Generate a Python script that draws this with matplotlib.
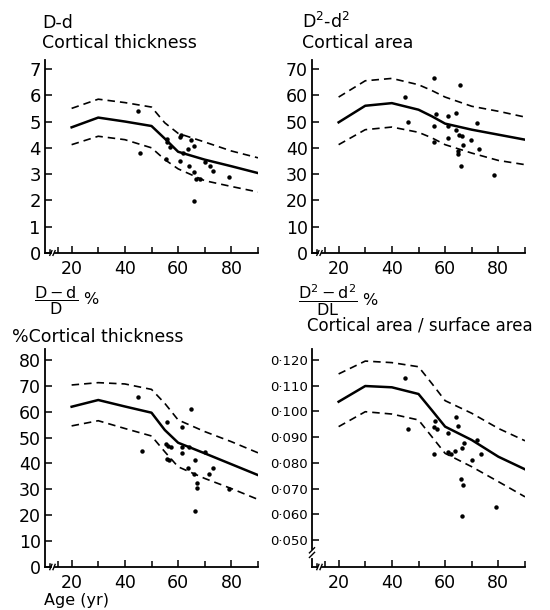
import matplotlib
matplotlib.use("Agg")
import matplotlib.pyplot as plt
from matplotlib.ticker import FuncFormatter

W, H = 550, 610

# ---- curve ages (shared by all four panels) ----
curve_age = [20, 30, 40, 50, 55, 60, 70, 80, 90]

# ---- D-d, cortical thickness ----
thick_mean = [4.78, 5.15, 5.0, 4.83, 4.35, 3.85, 3.55, 3.3, 3.04]
thick_upper = [5.5, 5.85, 5.72, 5.55, 4.95, 4.55, 4.22, 3.88, 3.62]
thick_lower = [4.12, 4.44, 4.31, 4.0, 3.55, 3.2, 2.75, 2.53, 2.32]
thick_pt_age = [44.8, 45.6, 56.0, 55.9, 57.1, 55.6, 61.0, 60.8, 61.9, 60.8, 65.0,
                65.9, 63.8, 64.1, 66.0, 66.9, 68.1, 66.0, 70.0, 72.1, 73.1, 79.0]
thick_pt_val = [5.41, 3.80, 4.33, 4.21, 4.02, 3.57, 4.50, 4.41, 3.80, 3.51, 4.28,
                4.08, 3.97, 3.30, 3.08, 2.81, 2.81, 1.99, 3.46, 3.32, 3.10, 2.90]

# ---- D^2-d^2, cortical area ----
area_mean = [49.7, 56.0, 57.0, 54.5, 52.0, 49.2, 46.9, 45.0, 43.1]
area_upper = [59.3, 65.5, 66.4, 64.0, 61.8, 59.3, 55.8, 53.9, 51.7]
area_lower = [41.2, 46.9, 47.9, 45.9, 43.8, 41.2, 38.0, 35.2, 33.6]
area_pt_age = [56.0, 65.6, 44.8, 46.0, 56.6, 56.0, 56.0, 60.9, 61.0, 61.0, 63.9,
               63.9, 65.3, 66.5, 64.9, 65.0, 66.9, 69.6, 71.9, 72.9, 65.9, 78.5]
area_pt_val = [66.5, 64.0, 59.3, 49.7, 52.9, 48.2, 42.1, 52.0, 48.4, 43.6, 53.4,
               46.9, 44.7, 44.6, 38.7, 37.8, 40.9, 43.1, 49.3, 39.5, 33.2, 29.5]

# ---- (D-d)/D %, % cortical thickness ----
pct_mean = [61.9, 64.5, 62.0, 59.6, 52.9, 48.0, 43.9, 39.7, 35.5]
pct_upper = [70.3, 71.2, 70.7, 68.6, 63.2, 56.8, 52.3, 48.4, 44.1]
pct_lower = [54.5, 56.5, 53.5, 50.6, 44.5, 38.7, 34.2, 30.3, 26.1]
pct_pt_age = [44.8, 46.3, 56.0, 55.4, 56.3, 57.3, 56.0, 56.6, 65.0, 61.3, 61.6, 61.3,
              64.1, 63.8, 66.3, 66.0, 67.1, 67.1, 70.0, 71.6, 73.1, 79.1, 66.3]
pct_pt_val = [65.8, 44.8, 56.1, 47.5, 46.8, 46.2, 41.9, 41.5, 61.0, 54.2, 46.2, 44.1,
              46.5, 38.1, 41.5, 36.1, 32.5, 30.7, 44.5, 36.1, 38.3, 30.3, 21.5]

# ---- (D^2-d^2)/DL %, cortical area / surface area ----
ratio_mean = [0.1038, 0.1099, 0.1094, 0.1068, 0.1005, 0.0941, 0.0889, 0.0824, 0.0775]
ratio_upper = [0.1146, 0.1196, 0.1190, 0.1174, 0.1109, 0.1042, 0.0993, 0.0934, 0.0886]
ratio_lower = [0.0941, 0.0999, 0.0990, 0.0967, 0.0902, 0.0837, 0.0785, 0.0727, 0.0668]
ratio_pt_age = [45.0, 46.0, 56.3, 56.0, 56.9, 56.0, 61.0, 61.0, 62.1, 64.0, 65.0,
                63.8, 66.3, 67.1, 72.1, 70.0, 73.4, 65.8, 66.9, 66.3, 79.1]
ratio_pt_val = [0.1131, 0.0932, 0.0964, 0.0941, 0.0930, 0.0833, 0.0915, 0.0841, 0.0834,
                0.0980, 0.0944, 0.0847, 0.0856, 0.0876, 0.0889, 0.0813, 0.0834, 0.0737,
                0.0714, 0.0594, 0.0629]

x_ticks = [20, 40, 60, 80]
x_minor = [30, 50, 70, 90]


def px_rect(left, top, right, bottom):
    return [left / W, 1 - bottom / H, (right - left) / W, (bottom - top) / H]


def draw_panel(ax, mean, upper, lower, pt_age, pt_val, ylim, yticks, fmt, ysize):
    ax.plot(curve_age, mean, color="black", lw=1.8)
    ax.plot(curve_age, upper, color="black", lw=1.2, dashes=(4.5, 3))
    ax.plot(curve_age, lower, color="black", lw=1.2, dashes=(4.5, 3))
    ax.plot(pt_age, pt_val, "o", color="black", ms=3.2, mec="none")
    ax.set_xlim(10, 90)
    ax.set_ylim(*ylim)
    for s in ["top", "right"]:
        ax.spines[s].set_visible(False)
    ax.spines["left"].set_linewidth(1.3)
    ax.spines["bottom"].set_linewidth(1.3)
    ax.spines["bottom"].set_bounds(13.6, 90)
    ax.set_xticks(x_ticks)
    ax.set_xticks(x_minor + [15], minor=True)
    ax.set_yticks(yticks)
    ax.yaxis.set_major_formatter(FuncFormatter(fmt))
    ax.tick_params(axis="both", which="both", direction="in", width=1.1, color="black")
    ax.tick_params(axis="x", which="major", length=5, labelsize=12.5, pad=5)
    ax.tick_params(axis="x", which="minor", length=4)
    ax.tick_params(axis="y", length=5, labelsize=ysize, pad=3)
    # x-axis break
    tr = ax.get_xaxis_transform()
    ax.plot([10, 11.8], [0, 0], color="black", lw=1.3, transform=tr, clip_on=False)
    ax.plot([11.8, 11.8], [0, 0.015], color="black", lw=1.1, transform=tr, clip_on=False)
    for xb in (12.2, 13.4):
        ax.plot([xb - 0.4, xb + 0.4], [-0.012, 0.012], color="black", lw=1.0,
                transform=tr, clip_on=False)


fig = plt.figure(figsize=(W / 100, H / 100), dpi=100)

ax1 = fig.add_axes(px_rect(45, 60, 258, 253))
draw_panel(ax1, thick_mean, thick_upper, thick_lower, thick_pt_age, thick_pt_val,
           (0, 7.34), range(0, 8), lambda v, p: f"{v:.0f}", 13)

ax2 = fig.add_axes(px_rect(312, 60, 525, 253))
draw_panel(ax2, area_mean, area_upper, area_lower, area_pt_age, area_pt_val,
           (0, 73.4), range(0, 80, 10), lambda v, p: f"{v:.0f}", 12.5)

ax3 = fig.add_axes(px_rect(45, 349, 258, 567))
draw_panel(ax3, pct_mean, pct_upper, pct_lower, pct_pt_age, pct_pt_val,
           (0, 84.2), range(0, 90, 10), lambda v, p: f"{v:.0f}", 12.5)

ax4 = fig.add_axes(px_rect(312, 349, 525, 567))
ratio_ticks = [0.05, 0.06, 0.07, 0.08, 0.09, 0.10, 0.11, 0.12]
draw_panel(ax4, ratio_mean, ratio_upper, ratio_lower, ratio_pt_age, ratio_pt_val,
           (0.0395, 0.1243), ratio_ticks,
           lambda v, p: f"{v:.3f}".replace(".", "·"), 9.5)
# y-axis break on the ratio panel
ax4.spines["left"].set_bounds(0.0465, 0.1243)
ty = ax4.get_yaxis_transform()
ax4.plot([0, 0], [0.0395, 0.0425], color="black", lw=1.3, transform=ty, clip_on=False)
ax4.plot([-0.012, 0.012], [0.0432, 0.0452], color="black", lw=1.0, transform=ty, clip_on=False)
ax4.plot([-0.012, 0.012], [0.0450, 0.0470], color="black", lw=1.0, transform=ty, clip_on=False)


def ftext(x, y, s, **kw):
    fig.text(x / W, 1 - y / H, s, **kw)


ftext(42, 28, "D-d", fontsize=12.5, va="baseline")
ftext(42, 48, "Cortical thickness", fontsize=12.5, va="baseline")
ftext(302, 28, r"D$^2$-d$^2$", fontsize=12.5, va="baseline")
ftext(302, 48, "Cortical area", fontsize=12.5, va="baseline")
ftext(34, 301, r"$\mathregular{\dfrac{D-d}{D}}$ %", fontsize=11.5, va="center")
ftext(12, 342, "%Cortical thickness", fontsize=12.5, va="baseline")
ftext(298, 300, r"$\mathregular{\dfrac{D^2-d^2}{DL}}$ %", fontsize=11.5, va="center")
ftext(307, 331, "Cortical area / surface area", fontsize=12, va="baseline")
ftext(44, 605, "Age (yr)", fontsize=11.5, va="baseline")

fig.savefig("out.png", dpi=100)
